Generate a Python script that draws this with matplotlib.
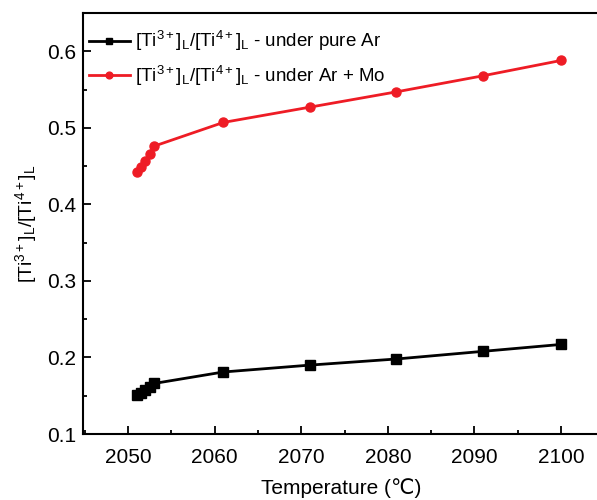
import matplotlib
matplotlib.use("Agg")
import matplotlib.pyplot as plt
from matplotlib.ticker import MultipleLocator

plt.rcParams['font.family'] = ['Liberation Sans', 'DejaVu Sans']
plt.rcParams['mathtext.fontset'] = 'custom'
plt.rcParams['mathtext.rm'] = 'Liberation Sans'
plt.rcParams['mathtext.it'] = 'Liberation Sans'
plt.rcParams['mathtext.bf'] = 'Liberation Sans'

temperature = [2051, 2051.5, 2052, 2052.5, 2053, 2061, 2071, 2081, 2091, 2100]
ratio_pure_ar = [0.151, 0.153, 0.157, 0.161, 0.166, 0.181, 0.190, 0.198, 0.208, 0.217]
ratio_ar_mo = [0.442, 0.449, 0.457, 0.466, 0.476, 0.507, 0.527, 0.547, 0.568, 0.588]
label_pure = r'[Ti$^{3+}$]$_L$/[Ti$^{4+}$]$_L$ - under pure Ar'
label_mo = r'[Ti$^{3+}$]$_L$/[Ti$^{4+}$]$_L$ - under Ar + Mo'

fig = plt.figure(figsize=(5.97, 5.0), dpi=100)
ax = fig.add_axes([0.139, 0.132, 0.866, 0.842])

ax.plot(temperature, ratio_pure_ar, color='black', marker='s', markersize=6.5,
        linewidth=2, label=label_pure)
ax.plot(temperature, ratio_ar_mo, color='#ee1c25', marker='o', markersize=6.5,
        linewidth=2, label=label_mo)

ax.set_xlim(2044.8, 2104.5)
ax.set_ylim(0.1, 0.65)
ax.xaxis.set_major_locator(MultipleLocator(10))
ax.xaxis.set_minor_locator(MultipleLocator(5))
ax.yaxis.set_major_locator(MultipleLocator(0.1))
ax.yaxis.set_minor_locator(MultipleLocator(0.05))
ax.tick_params(which='both', direction='in', labelsize=15, width=1.3)
ax.tick_params(which='major', length=6)
ax.tick_params(which='minor', length=3)
ax.tick_params(axis='x', pad=10)
ax.tick_params(axis='y', pad=5)
for s in ax.spines.values():
    s.set_linewidth(1.5)
ax.spines['right'].set_visible(False)

ax.set_xlabel('Temperature (℃)', fontsize=15, labelpad=8)
ax.set_ylabel(r'[Ti$^{3+}$]$_L$/[Ti$^{4+}$]$_L$', fontsize=14, labelpad=6)

ax.legend(loc='upper left', bbox_to_anchor=(0.0, 0.975), frameon=False,
          fontsize=13.5, handlelength=2.2, markerscale=0.75,
          handletextpad=0.3, borderaxespad=0.1, borderpad=0.2, labelspacing=0.55)

fig.savefig('out.png', dpi=100)
